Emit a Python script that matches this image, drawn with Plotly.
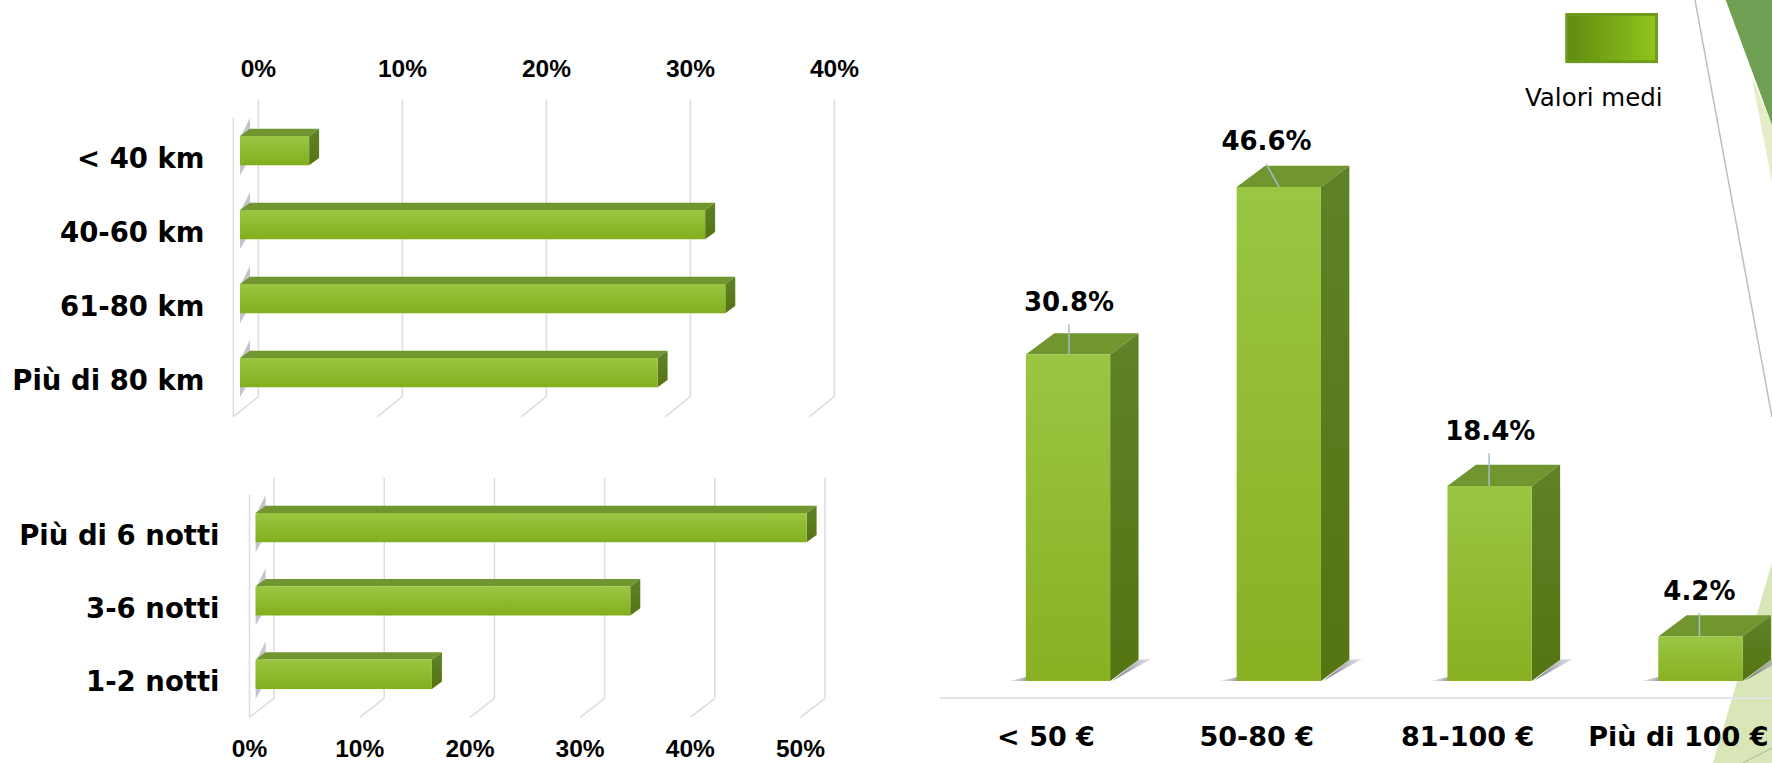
import plotly.graph_objects as go

W, H = 1772, 763

# ---------- data ----------
km_labels = ["< 40 km", "40-60 km", "61-80 km", "Più di 80 km"]
km_values = [4.8, 32.3, 33.7, 29.0]
km_ticks = [0, 10, 20, 30, 40]

notti_labels = ["Più di 6 notti", "3-6 notti", "1-2 notti"]
notti_values = [50.0, 34.0, 16.0]
notti_ticks = [0, 10, 20, 30, 40, 50]

prezzo_labels = ["< 50 €", "50-80 €", "81-100 €", "Più di 100 €"]
prezzo_values = [30.8, 46.6, 18.4, 4.2]
prezzo_text = ["30.8%", "46.6%", "18.4%", "4.2%"]
legend_text = "Valori medi"

# ---------- styles ----------
FACE_V = [[0, "#8ab023"], [1, "#9ac643"]]
SIDE = [[0, "#557412"], [1, "#5f8228"]]
TOP = "#72962f"
GRID = "#d5dee2"
BLACK = "#000000"
FB = "DejaVu Sans"
FN = "Liberation Sans"

fig = go.Figure()


def dom_x(a, b):
    return [a / W, b / W]


def dom_y(top, bottom):
    return [1 - bottom / H, 1 - top / H]


def poly(xs, ys, ax, ay, color=None, grad=None, line=None):
    kw = dict(x=list(xs) + [xs[0]], y=list(ys) + [ys[0]], xaxis=ax, yaxis=ay,
              mode="lines", fill="toself", hoverinfo="skip", showlegend=False, cliponaxis=False)
    if grad:
        kw["fillgradient"] = dict(type=grad[0], colorscale=grad[1])
    else:
        kw["fillcolor"] = color
    kw["line"] = dict(width=1 if line else 0, color=line or "rgba(0,0,0,0)")
    fig.add_trace(go.Scatter(**kw))


def seg(xs, ys, ax, ay, color, width):
    fig.add_trace(go.Scatter(x=xs, y=ys, xaxis=ax, yaxis=ay, mode="lines", hoverinfo="skip",
                             showlegend=False, cliponaxis=False,
                             line=dict(color=color, width=width)))


def hbars(values, ax, ay, sx, sy, ticks, wall_dx, floor_back_y, grid_top_y, front_bottom_y,
          wall_top_y, bar_x0, grid_on_back_axis):
    """All offsets in pixels, converted to data units through sx (px per %) and sy (px per row)."""
    back = 0 if grid_on_back_axis else wall_dx / sx
    front = -wall_dx / sx if grid_on_back_axis else 0
    for t in ticks:
        seg([t + back, t + back], [grid_top_y, floor_back_y], ax, ay, GRID, 1.5)
        seg([t + back, t + front], [floor_back_y, front_bottom_y], ax, ay, GRID, 1.5)
    seg([front, front], [wall_top_y, front_bottom_y], ax, ay, GRID, 1.5)
    dx, dy = 10 / sx, 7.3 / sy
    h_top, h_bot = 22 / sy, 7.3 / sy
    for i, v in enumerate(values):
        x0, x1 = bar_x0, bar_x0 + v
        top, bot = i - h_top, i + h_bot
        # shadow cast on the wall
        poly([x0, x0 + dx, x0 + dx, x0], [top + 2 / sy, top - 18 / sy, bot - dy, bot + 10 / sy], ax, ay,
             color="rgba(125,125,150,0.45)")
        poly([x0, x1, x1 + dx, x0 + dx], [top, top, top - dy, top - dy], ax, ay, color=TOP)
        poly([x1, x1 + dx, x1 + dx, x1], [top, top - dy, bot - dy, bot], ax, ay, grad=("vertical", SIDE))
        poly([x0, x1, x1, x0], [top, top, bot, bot], ax, ay, grad=("vertical", [[0, "#82ae1e"], [1, "#9ac643"]]))


# ---------- chart 1 : km ----------
sx1, sy1 = 14.4, 74.0
px1 = (215, 860, 90, 420)
hbars(km_values, "x", "y", sx1, sy1, km_ticks, 25, (396.7 - 158) / sy1, (99.3 - 158) / sy1,
      (416.7 - 158) / sy1, (118 - 158) / sy1, (240 - 258.4) / sx1, True)

# ---------- chart 2 : notti ----------
sx2, sy2 = 11.02, 73.3
px2 = (227, 860, 470, 720)
hbars(notti_values, "x2", "y2", sx2, sy2, notti_ticks, 24.5, (698.3 - 535) / sy2, (477.7 - 535) / sy2,
      (717.3 - 535) / sy2, (495 - 535) / sy2, (255.6 - 249.5) / sx2, False)

# ---------- chart 3 : prezzo ----------
sx3, sy3 = 210.8, 10.6
px3 = (940, 1772, 100, 697.3)
bw = 84.3 / sx3
off = 22 / sx3
dx3, dy3 = 28.4 / sx3, 21.3 / sy3
for i, v in enumerate(prezzo_values):
    x0, x1 = i + off - bw / 2, i + off + bw / 2
    # floor shadows
    poly([x0, x0 - 17 / sx3, x0 + 10 / sx3], [0, 0, 6 / sy3], "x3", "y3",
         grad=("horizontal", [[0, "rgba(120,120,140,0.1)"], [1, "rgba(100,100,125,0.95)"]]))
    poly([x1 + 2 / sx3, x1 + dx3 + 13 / sx3, x1 + dx3], [0, dy3 + 1 / sy3, dy3], "x3", "y3",
         grad=("horizontal", [[0, "rgba(90,90,110,0.9)"], [1, "rgba(150,150,170,0.25)"]]))
    poly([x0, x1, x1 + dx3, x0 + dx3], [v, v, v + dy3, v + dy3], "x3", "y3", color=TOP)
    poly([x1, x1 + dx3, x1 + dx3, x1], [v, v + dy3, dy3, 0], "x3", "y3", grad=("vertical", SIDE))
    poly([x0, x1, x1, x0], [v, v, 0, 0], "x3", "y3", grad=("vertical", FACE_V))

lbl_dx = [1, -12.3, 0.7, -1]
lbl_dy = [50, 43.5, 52.8, 42.5]
lead_top_dx = [1, -12.3, -0.5, -1]
lead_bot_dx = [1, 0.3, -0.5, -1]
lead_len = [30.3, 22.7, 32.7, 23.4]
for i, v in enumerate(prezzo_values):
    seg([i + off + lead_bot_dx[i] / sx3, i + off + lead_top_dx[i] / sx3], [v, v + lead_len[i] / sy3],
        "x3", "y3", "#a6bccb", 1.5)
fig.add_trace(go.Scatter(
    x=[i + off + lbl_dx[i] / sx3 for i in range(4)],
    y=[v + lbl_dy[i] / sy3 for i, v in enumerate(prezzo_values)],
    text=prezzo_text, mode="text", xaxis="x3", yaxis="y3", showlegend=False, hoverinfo="skip",
    cliponaxis=False, textposition="middle center",
    textfont=dict(family=FB, size=26, color=BLACK, weight="bold")))


def rng(a, b, origin, scale):
    return [(a - origin) / scale, (b - origin) / scale]


clear = "rgba(0,0,0,0)"
tick_font_small = dict(family=FN, size=24.5, color=BLACK, weight="bold")
tick_font_big = dict(family=FB, size=27.5, color=BLACK, weight="bold")

shapes = [
    dict(type="path", xref="paper", yref="paper", layer="below",
         path=f"M {1751.7/W} {1-77/H} L {1772/W} {1-125/H} L {1772/W} {1-182/H} Z",
         fillcolor="#e4edc8", line_width=0),
    dict(type="path", xref="paper", yref="paper", layer="below",
         path=f"M {1725.7/W} 1 L 1 1 L 1 {1-125/H} Z", fillcolor="#6f9f52", line_width=0),
    dict(type="line", xref="paper", yref="paper", layer="below",
         x0=1695 / W, y0=1, x1=1, y1=1 - 417 / H, line=dict(color="#bfbfbf", width=1.5)),
    dict(type="path", xref="paper", yref="paper", layer="below",
         path=f"M 1 {1-563/H} L {1713/W} 0 L 1 0 Z", fillcolor="#d8e6b8", line_width=0),
    dict(type="line", xref="paper", yref="paper", layer="below",
         x0=1743 / W, y0=0, x1=1, y1=1 - 748 / H, line=dict(color="#a9b894", width=1)),
]

fig.update_layout(
    width=W, height=H, margin=dict(l=0, r=0, t=0, b=0), autosize=False, template="none",
    paper_bgcolor="white", plot_bgcolor="rgba(0,0,0,0)", showlegend=False, shapes=shapes,
    xaxis=dict(domain=dom_x(px1[0], px1[1]), anchor="y", side="top", range=rng(px1[0], px1[1], 258.4, sx1),
               tickvals=km_ticks, ticktext=[f"{t}%" for t in km_ticks], showgrid=False, zeroline=False,
               showline=False, ticks="outside", ticklen=2.5, tickcolor=clear, tickfont=tick_font_small),
    yaxis=dict(domain=dom_y(px1[2], px1[3]), anchor="x", range=rng(px1[3], px1[2], 158, sy1),
               tickvals=list(range(4)), ticktext=km_labels, showgrid=False, zeroline=False, showline=False,
               ticks="outside", ticklen=4, tickcolor=clear, tickfont=tick_font_big),
    xaxis2=dict(domain=dom_x(px2[0], px2[1]), anchor="y2", side="bottom", range=rng(px2[0], px2[1], 249.5, sx2),
                tickvals=notti_ticks, ticktext=[f"{t}%" for t in notti_ticks], showgrid=False, zeroline=False,
                showline=False, ticks="outside", ticklen=7, tickcolor=clear, tickfont=tick_font_small),
    yaxis2=dict(domain=dom_y(px2[2], px2[3]), anchor="x2", range=rng(px2[3], px2[2], 535, sy2),
                tickvals=list(range(3)), ticktext=notti_labels, showgrid=False, zeroline=False, showline=False,
                ticks="outside", ticklen=1, tickcolor=clear, tickfont=tick_font_big),
    xaxis3=dict(domain=dom_x(px3[0], px3[1]), anchor="y3", range=rng(px3[0], px3[1], 1046, sx3),
                tickvals=list(range(4)), ticktext=prezzo_labels, showgrid=False, zeroline=False,
                showline=True, linecolor="#e0e4e4", linewidth=2, ticks="outside", ticklen=14, tickcolor=clear,
                tickfont=dict(family=FB, size=27, color=BLACK, weight="bold")),
    yaxis3=dict(domain=dom_y(px3[2], px3[3]), anchor="x3", range=[(681 - px3[3]) / sy3, (681 - px3[2]) / sy3],
                visible=False),
    # legend swatch axes, one unit wide
    xaxis4=dict(domain=dom_x(1565.3, 1658), anchor="y4", range=[0, 1], visible=False),
    yaxis4=dict(domain=dom_y(13, 63.3), anchor="x4", range=[0, 1], visible=False),
)

# legend swatch
poly([0, 1, 1, 0], [0, 0, 1, 1], "x4", "y4",
     grad=("horizontal", [[0, "#5f8a10"], [1, "#90c61c"]]))
seg([0.016, 0.984, 0.984, 0.016, 0.016], [0.03, 0.03, 0.97, 0.97, 0.03], "x4", "y4", "#6f9a1e", 3)
fig.add_annotation(xref="paper", yref="paper", x=1594 / W, y=1 - 97.5 / H, text=legend_text, showarrow=False,
                   xanchor="center", yanchor="middle", font=dict(family=FB, size=24.5, color=BLACK))

fig.write_html("out.html", config={"displayModeBar": False},
               post_script="document.body.style.margin='0';document.body.style.overflow='hidden';")
